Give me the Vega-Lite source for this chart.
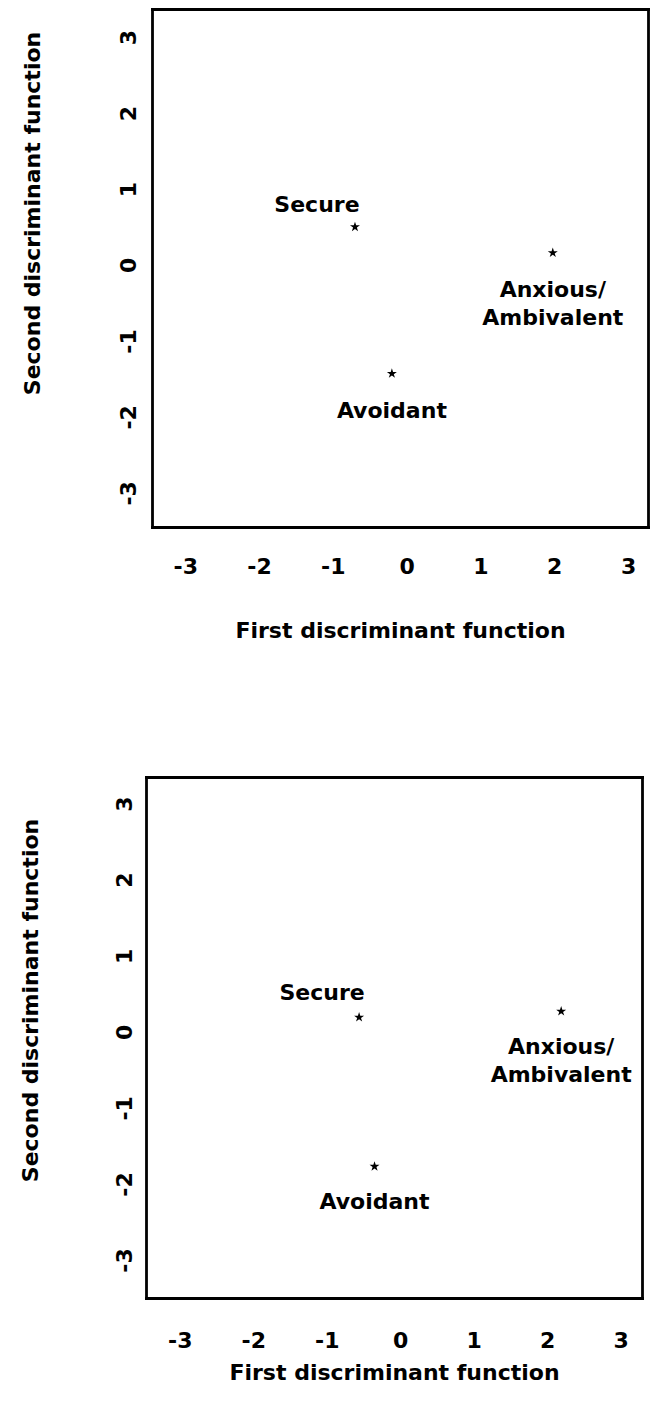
{
  "$schema": "https://vega.github.io/schema/vega-lite/v6.json",
  "background": "white",
  "width": 656,
  "height": 1406,
  "autosize": {"type": "none"},
  "padding": 0,
  "config": {
    "view": {"stroke": null},
    "font": "DejaVu Sans",
    "axis": {
      "grid": false, "ticks": false, "domain": true, "domainColor": "black", "domainWidth": 2.8, "domainCap": "square",
      "labelFont": "DejaVu Sans", "labelFontWeight": "bold", "labelFontSize": 22, "labelColor": "black",
      "titleFont": "DejaVu Sans", "titleFontWeight": "bold", "titleFontSize": 22, "titleColor": "black"
    },
    "text": {"font": "DejaVu Sans", "fontWeight": "bold", "fontSize": 22, "color": "black", "baseline": "middle"}
  },
  "datasets": {
    "s1": [
      {"group": "Secure", "x": -0.70, "y": 0.50},
      {"group": "Anxious/", "group2": "Ambivalent", "x": 1.98, "y": 0.16},
      {"group": "Avoidant", "x": -0.20, "y": -1.43}
    ],
    "s2": [
      {"group": "Secure", "x": -0.56, "y": 0.19},
      {"group": "Anxious/", "group2": "Ambivalent", "x": 2.19, "y": 0.27},
      {"group": "Avoidant", "x": -0.35, "y": -1.77}
    ]
  },
  "resolve": {"scale": {"x": "independent", "y": "independent"}, "axis": {"x": "independent", "y": "independent"}},
  "layer": [
    {
      "data": {"name": "s1"},
      "resolve": {"axis": {"x": "independent", "y": "independent"}},
      "layer": [
        {"mark": {"type": "point", "shape": "M0,-1L0.2245,-0.309L0.951,-0.309L0.3633,0.118L0.5878,0.809L0,0.382L-0.5878,0.809L-0.3633,0.118L-0.951,-0.309L-0.2245,-0.309Z", "filled": true, "color": "black", "size": 110, "opacity": 1},
         "encoding": {
           "x": {"field": "x", "type": "quantitative",
             "scale": {"domain": [-3.45, 3.27], "range": [152, 648], "nice": false, "zero": false},
             "axis": {"orient": "bottom", "offset": -879, "values": [-3, -2, -1, 0, 1, 2, 3],
               "labelExpr": "datum.value < 0 ? '-' + abs(datum.value) : '' + datum.value",
               "labelBaseline": "middle", "labelPadding": 39,
               "title": "First discriminant function", "titleY": 103, "titleBaseline": "middle"}},
           "y": {"field": "y", "type": "quantitative",
             "scale": {"domain": [-3.45, 3.37], "range": [527, 9], "nice": false, "zero": false},
             "axis": {"orient": "left", "offset": -152, "values": [-3, -2, -1, 0, 1, 2, 3],
               "labelExpr": "datum.value < 0 ? '-' + abs(datum.value) : '' + datum.value",
               "labelAngle": 270, "labelAlign": "center", "labelBaseline": "bottom", "labelPadding": 12,
               "title": "Second discriminant function", "titleAngle": 270, "titleX": -120, "titleY": 213,
               "titleBaseline": "middle", "titleAlign": "center"}}
         }},
        {"transform": [{"filter": "datum.group == 'Secure'"}],
         "mark": {"type": "text", "dx": -38, "dy": -22},
         "encoding": {
           "x": {"field": "x", "type": "quantitative",
             "scale": {"domain": [-3.45, 3.27], "range": [152, 648], "nice": false, "zero": false},
             "axis": {"orient": "top", "offset": -9, "labels": false, "title": null}},
           "y": {"field": "y", "type": "quantitative",
             "scale": {"domain": [-3.45, 3.37], "range": [527, 9], "nice": false, "zero": false},
             "axis": {"orient": "right", "offset": -8, "labels": false, "title": null}},
           "text": {"field": "group", "type": "nominal"}
         }},
        {"transform": [{"filter": "datum.group != 'Secure'"}],
         "mark": {"type": "text", "dy": 37},
         "encoding": {
           "x": {"field": "x", "type": "quantitative",
             "scale": {"domain": [-3.45, 3.27], "range": [152, 648], "nice": false, "zero": false}, "axis": null},
           "y": {"field": "y", "type": "quantitative",
             "scale": {"domain": [-3.45, 3.37], "range": [527, 9], "nice": false, "zero": false}, "axis": null},
           "text": {"field": "group", "type": "nominal"}
         }},
        {"transform": [{"filter": "datum.group == 'Anxious/'"}],
         "mark": {"type": "text", "dy": 65},
         "encoding": {
           "x": {"field": "x", "type": "quantitative",
             "scale": {"domain": [-3.45, 3.27], "range": [152, 648], "nice": false, "zero": false}, "axis": null},
           "y": {"field": "y", "type": "quantitative",
             "scale": {"domain": [-3.45, 3.37], "range": [527, 9], "nice": false, "zero": false}, "axis": null},
           "text": {"field": "group2", "type": "nominal"}
         }}
      ]
    },
    {
      "data": {"name": "s2"},
      "resolve": {"axis": {"x": "independent", "y": "independent"}},
      "layer": [
        {"mark": {"type": "point", "shape": "M0,-1L0.2245,-0.309L0.951,-0.309L0.3633,0.118L0.5878,0.809L0,0.382L-0.5878,0.809L-0.3633,0.118L-0.951,-0.309L-0.2245,-0.309Z", "filled": true, "color": "black", "size": 110, "opacity": 1},
         "encoding": {
           "x": {"field": "x", "type": "quantitative",
             "scale": {"domain": [-3.46, 3.29], "range": [146, 642], "nice": false, "zero": false},
             "axis": {"orient": "bottom", "offset": -108, "values": [-3, -2, -1, 0, 1, 2, 3],
               "labelExpr": "datum.value < 0 ? '-' + abs(datum.value) : '' + datum.value",
               "labelBaseline": "middle", "labelPadding": 42,
               "title": "First discriminant function", "titleY": 74, "titleBaseline": "middle"}},
           "y": {"field": "y", "type": "quantitative",
             "scale": {"domain": [-3.5, 3.35], "range": [1298, 777], "nice": false, "zero": false},
             "axis": {"orient": "left", "offset": -146, "values": [-3, -2, -1, 0, 1, 2, 3],
               "labelExpr": "datum.value < 0 ? '-' + abs(datum.value) : '' + datum.value",
               "labelAngle": 270, "labelAlign": "center", "labelBaseline": "bottom", "labelPadding": 10,
               "title": "Second discriminant function", "titleAngle": 270, "titleX": -116, "titleY": 1000,
               "titleBaseline": "middle", "titleAlign": "center"}}
         }},
        {"transform": [{"filter": "datum.group == 'Secure'"}],
         "mark": {"type": "text", "dx": -37, "dy": -24},
         "encoding": {
           "x": {"field": "x", "type": "quantitative",
             "scale": {"domain": [-3.46, 3.29], "range": [146, 642], "nice": false, "zero": false},
             "axis": {"orient": "top", "offset": -777, "labels": false, "title": null}},
           "y": {"field": "y", "type": "quantitative",
             "scale": {"domain": [-3.5, 3.35], "range": [1298, 777], "nice": false, "zero": false},
             "axis": {"orient": "right", "offset": -14, "labels": false, "title": null}},
           "text": {"field": "group", "type": "nominal"}
         }},
        {"transform": [{"filter": "datum.group != 'Secure'"}],
         "mark": {"type": "text", "dy": 36},
         "encoding": {
           "x": {"field": "x", "type": "quantitative",
             "scale": {"domain": [-3.46, 3.29], "range": [146, 642], "nice": false, "zero": false}, "axis": null},
           "y": {"field": "y", "type": "quantitative",
             "scale": {"domain": [-3.5, 3.35], "range": [1298, 777], "nice": false, "zero": false}, "axis": null},
           "text": {"field": "group", "type": "nominal"}
         }},
        {"transform": [{"filter": "datum.group == 'Anxious/'"}],
         "mark": {"type": "text", "dy": 64},
         "encoding": {
           "x": {"field": "x", "type": "quantitative",
             "scale": {"domain": [-3.46, 3.29], "range": [146, 642], "nice": false, "zero": false}, "axis": null},
           "y": {"field": "y", "type": "quantitative",
             "scale": {"domain": [-3.5, 3.35], "range": [1298, 777], "nice": false, "zero": false}, "axis": null},
           "text": {"field": "group2", "type": "nominal"}
         }}
      ]
    }
  ]
}
